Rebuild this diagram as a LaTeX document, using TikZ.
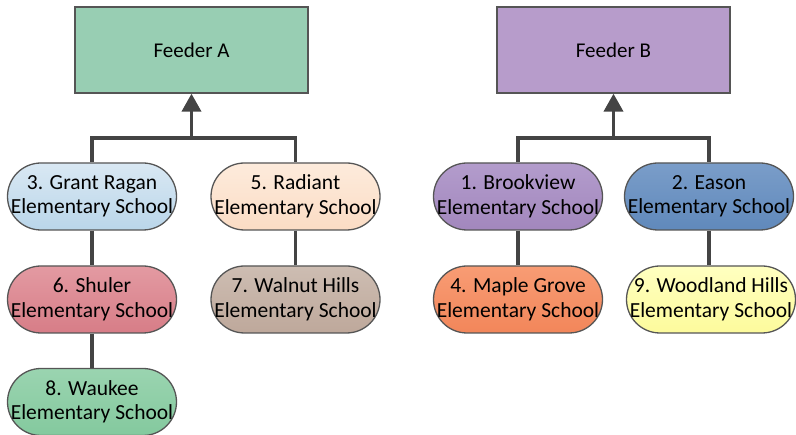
\documentclass[tikz,border=0pt]{standalone}
\usepackage{fontspec}
\setmainfont{Carlito}
\usetikzlibrary{arrows.meta}

\definecolor{linegray}{HTML}{444444}
\definecolor{edgegray}{HTML}{555555}
\definecolor{feedAfill}{HTML}{98CEB3}
\definecolor{feedBfill}{HTML}{B79CCB}
\definecolor{grantTop}{HTML}{D9E8F3}\definecolor{grantBot}{HTML}{BAD6EA}
\definecolor{radiantTop}{HTML}{FDEBDC}\definecolor{radiantBot}{HTML}{FBDCC4}
\definecolor{shulerTop}{HTML}{E39AA2}\definecolor{shulerBot}{HTML}{D77D87}
\definecolor{walnutTop}{HTML}{CDBDB2}\definecolor{walnutBot}{HTML}{BEA89B}
\definecolor{waukeeTop}{HTML}{9AD4B0}\definecolor{waukeeBot}{HTML}{84C99E}
\definecolor{brookTop}{HTML}{B39CCC}\definecolor{brookBot}{HTML}{A287BD}
\definecolor{easonTop}{HTML}{7A9DC9}\definecolor{easonBot}{HTML}{6089BB}
\definecolor{mapleTop}{HTML}{F89C74}\definecolor{mapleBot}{HTML}{F2865A}
\definecolor{woodTop}{HTML}{FFFFC0}\definecolor{woodBot}{HTML}{FDFB9C}

\begin{document}
\begin{tikzpicture}[x=1pt,y=-1pt,>={Triangle[width=19pt,length=18pt]},
    feeder/.style={rectangle,draw=edgegray,line width=1.3pt,minimum width=233pt,minimum height=86pt,font=\fontsize{21}{25}\selectfont},
    school/.style={rectangle,rounded corners=33.5pt,draw=edgegray,line width=1.3pt,minimum width=169pt,minimum height=67pt,inner sep=0pt,align=center,font=\fontsize{21.5}{24.5}\selectfont},
    link/.style={draw=linegray,line width=3.8pt}]
            \useasboundingbox (0,0) rectangle (796,435);
            \node[feeder,fill=feedAfill](FeedA)at(191.5, 50){Feeder A};
            \node[feeder,fill=feedBfill](FeedB)at(613.5, 50){Feeder B};
            \node[school,top color=grantTop,bottom color=grantBot](Grant)at(92, 196.5){3. Grant Ragan\\Elementary School};
            \node[school,top color=radiantTop,bottom color=radiantBot](Radiant)at(295.5, 196.5){5. Radiant\\Elementary School};
            \node[school,top color=shulerTop,bottom color=shulerBot](Shuler)at(92, 299.5){6. Shuler\\Elementary School};
            \node[school,top color=walnutTop,bottom color=walnutBot](Walnut)at(295.5, 299.5){7. Walnut Hills\\Elementary School};
            \node[school,top color=waukeeTop,bottom color=waukeeBot](Waukee)at(92, 402){8. Waukee\\Elementary School};
            \node[school,top color=brookTop,bottom color=brookBot](Brook)at(518, 196.5){1. Brookview\\Elementary School};
            \node[school,top color=easonTop,bottom color=easonBot](Eason)at(709, 196.5){2. Eason\\Elementary School};
            \node[school,top color=mapleTop,bottom color=mapleBot](Maple)at(518, 299.5){4. Maple Grove\\Elementary School};
            \node[school,top color=woodTop,bottom color=woodBot](Woodland)at(711, 299.5){9. Woodland Hills\\Elementary School};
            \coordinate(JoinA)at(191.5, 138);
            \coordinate(JoinB)at(613.5, 138);
            \path[link](Grant.north) |- (JoinA) -| (Radiant.north)
            (Brook.north) |- (JoinB) -| (Eason.north)
            (Grant) -- (Shuler)
            (Shuler) -- (Waukee)
            (Radiant) -- (Walnut)
            (Brook) -- (Maple)
            (Eason.south) -- (Eason.south |- Woodland.north);
            \draw[link,->](JoinA) -- (FeedA.south);
            \draw[link,->](JoinB) -- (FeedB.south);
        \end{tikzpicture}
\end{document}
